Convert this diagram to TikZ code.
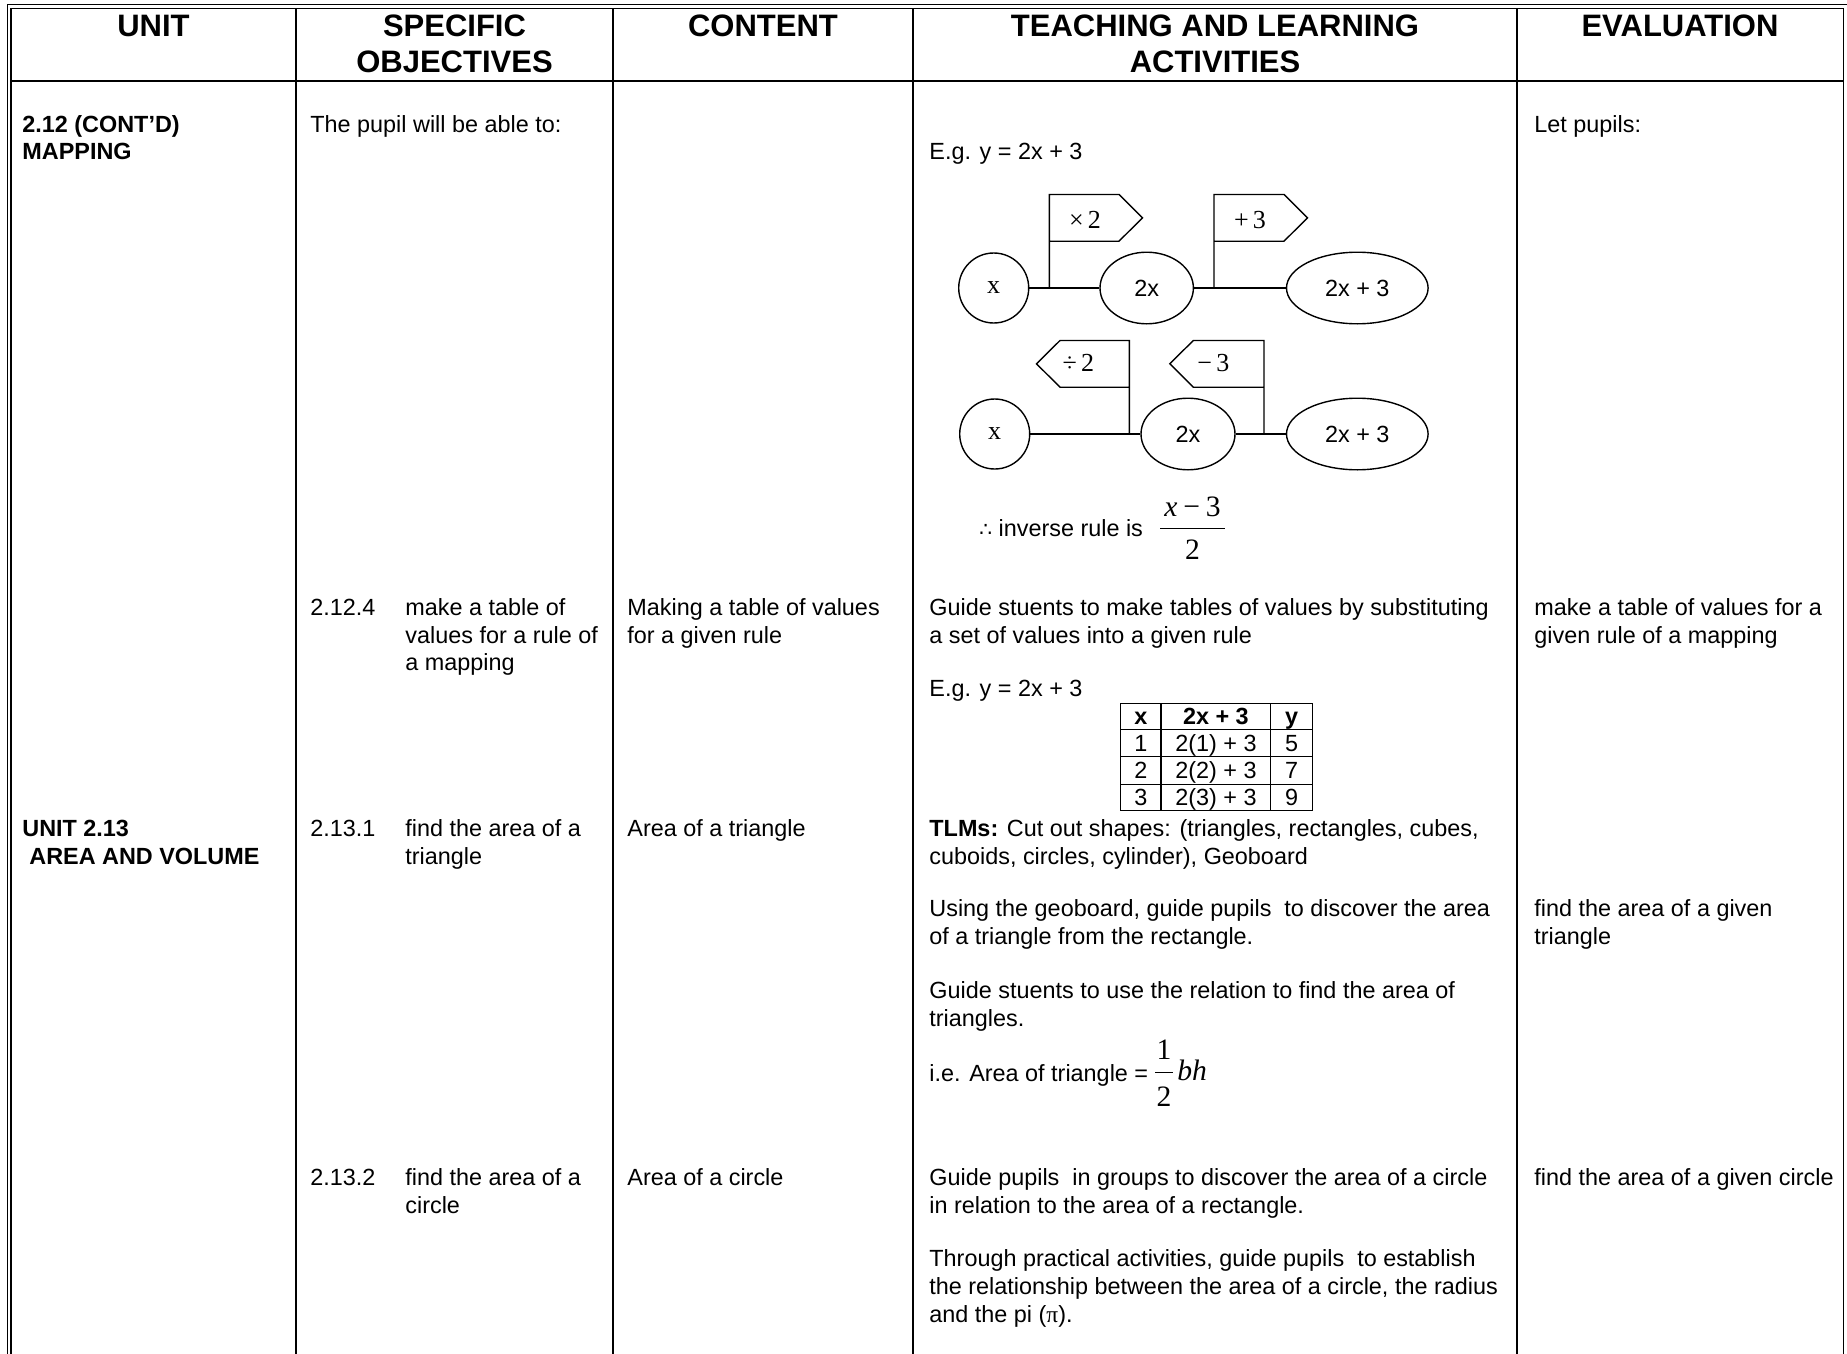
\documentclass[tikz,border=0pt]{standalone}
\usepackage{fontspec}
\setmainfont{Liberation Sans}
\newfontfamily\tms{Liberation Serif}
\newfontfamily\djv{DejaVu Sans}
\usetikzlibrary{shapes}
\newcommand\body{\fontsize{11.7pt}{13.85pt}\selectfont}
\newcommand\hdfont{\fontsize{15.5pt}{17.8pt}\selectfont\bfseries}
\newcommand\tagfont{\fontsize{13pt}{15pt}\selectfont\tms}
\newcommand\fracfont{\fontsize{14.8pt}{17pt}\selectfont\tms}
\tikzstyle{rule}=[draw,line width=0.7pt]
\tikzstyle{head}=[anchor=north,align=center,inner sep=0pt,font=\hdfont]
\tikzstyle{cell}=[anchor=north west,align=left,inner sep=0pt,font=\body]
\tikzstyle{ball}=[circle,draw,line width=0.7pt,minimum size=35pt,inner sep=0pt,font=\tagfont]
\tikzstyle{egg}=[ellipse,draw,line width=0.7pt,minimum height=35.8pt,inner sep=0pt,font=\body]
\tikzstyle{tag}=[inner sep=0pt,font=\tagfont]
\tikzstyle{frac}=[inner sep=0pt,anchor=base,font=\fracfont]
\tikzstyle{entry}=[inner sep=0pt,anchor=base,font=\body]
\begin{document}
\begin{tikzpicture}[x=0.5pt,y=-0.5pt]

  \fill[white] (0,0) rectangle (1847,1354);
  \useasboundingbox (0,0) rectangle (1847,1354);

  % frame
  \draw[rule] (7.5,4.5) -- (1847,4.5);
  \draw[rule] (7.5,4.5) -- (7.5,1354);
  \draw[rule] (11,8.5) -- (1843.3,8.5);
  \draw[rule] (11,8.5) -- (11,1354);
  \draw[rule] (1843.3,8.5) -- (1843.3,1354);
  \draw[rule] (11,81) -- (1843.3,81);
  \foreach \cx in {296,613,913,1517}
         \draw[rule] (\cx,8.5) -- (\cx,1354);

  % headings
  \foreach \x/\name/\label in {153.5/hunit/UNIT, 454.5/hobj/{SPECIFIC\\OBJECTIVES}, 763/hcont/CONTENT, 1215/hact/{TEACHING AND LEARNING\\ACTIVITIES}, 1680/heval/EVALUATION}
          \node[head] (\name) at (\x,11.2) {\strut\label};

  % cells
  \foreach \x/\y/\name/\label in {22/112.5/ua/{2.12 (CONT’D)\\MAPPING}, 22/817/ub/{UNIT 2.13\\\hspace*{3.5pt}AREA AND VOLUME}}
          \node[cell,font=\body\bfseries] (\name) at (\x,\y) {\strut\label};

  \foreach \x/\y/\name/\label in {
      310/112.5/oa/{The pupil will be able to:},
      1534/112.5/ea/{Let pupils:},
      929/139.8/ta/{E.g. y = 2x + 3},
      310/595.7/nb/2.12.4,
      405/595.7/ob/{make a table of\\values for a rule of\\a mapping},
      627/595.7/cb/{Making a table of values\\for a given rule},
      929/595.7/tb/{Guide stuents to make tables of values by substituting\\a set of values into a given rule},
      1534/595.7/eb/{make a table of values for a\\given rule of a mapping},
      929/677/tbb/{E.g. y = 2x + 3},
      310/817/nc/2.13.1,
      405/817/oc/{find the area of a\\triangle},
      627/817/cc/{Area of a triangle},
      929/817/tc/{\textbf{TLMs:} Cut out shapes: (triangles, rectangles, cubes,\\cuboids, circles, cylinder), Geoboard},
      929/897/tcc/{Using the geoboard, guide pupils\ \ to discover the area\\of a triangle from the rectangle.},
      1534/897/ec/{find the area of a given\\triangle},
      929/978.5/tccc/{Guide stuents to use the relation to find the area of\\triangles.},
      310/1166/nd/2.13.2,
      405/1166/od/{find the area of a\\circle},
      627/1166/cd/{Area of a circle},
      929/1166/td/{Guide pupils\ \ in groups to discover the area of a circle\\in relation to the area of a rectangle.},
      1534/1166/ed/{find the area of a given circle},
      929/1247/tdd/{Through practical activities, guide pupils\ \ to establish\\the relationship between the area of a circle, the radius\\and the pi ({\tms π}).}}
          \node[cell] (\name) at (\x,\y) {\strut\label};

  % mapping x -> 2x -> 2x + 3
  \foreach \x/\y/\name/\label in {993.7/288/xa/x, 994.7/434/xb/x}
          \node[ball] (\name) at (\x,\y) {\label};
  \foreach \x/\y/\name/\w/\label in {1146.7/288/ma/46.7pt/2x, 1357.3/288/ra/70.8pt/2x + 3, 1188/434/mb/47pt/2x, 1357.3/434/rb/70.8pt/2x + 3}
          \node[egg,minimum width=\w] (\name) at (\x,\y) {\label};

  \foreach \source/ \dest in {xa/ma, ma/ra, xb/mb, mb/rb}
         \path[rule] (\source) -- (\dest);

  % flags
  \foreach \name/\x/\y/\w/\s in {pa/1049.3/288/69.7/1, pb/1214/288/70/1, pc/1129.3/434/69.3/-1, pd/1264/434/70.7/-1}
  {
    \coordinate (\name) at (\x,\y);
    \draw[rule] (\name) -- ++(0,-93.5) -- ++(\s*\w,0) -- ++(\s*23.5,23.3) -- ++(\s*-23.5,23.4) -- ++(\s*-\w,0);
  }
  \foreach \x/\y/\name/\label in {1085/220/fa/{×\,2}, 1250/220/fb/{+\,3}, 1078.3/363.3/fc/{÷\,2}, 1213.3/363.3/fd/{−\,3}}
          \node[tag] (\name) at (\x,\y) {\label};

  % inverse rule
  \node[cell,anchor=base west] (inv) at (979,536.7) {{\djv\fontsize{10pt}{12pt}\selectfont ∴} inverse rule is};
  \node[frac] (inum) at (1192.5,516) {{\itshape x}\hspace{0.2em}−\hspace{0.2em}3};
  \node[frac] (iden) at (1192.5,559) {2};
  \draw[line width=0.6pt] (1160,528.3) -- (1225,528.3);

  % table of values
  \foreach \cx in {1120.7,1161,1270.7,1312.3}
         \draw[rule] (\cx,703.3) -- (\cx,810.7);
  \foreach \ry in {703.3,729.3,756.7,784.3,810.7}
         \draw[rule] (1120.7,\ry) -- (1312.3,\ry);
  \node[entry,font=\body\bfseries] (vx) at (1140.9,724.7) {x};
  \node[entry,font=\body\bfseries] (vr) at (1215.9,724.7) {2x + 3};
  \node[entry,font=\body\bfseries] (vy) at (1291.5,724.7) {y};
  \foreach \y/\a/\b in {751.4/1/5, 778.9/2/7, 805.9/3/9}
  {
    \node[entry] (vx\a) at (1140.9,\y) {\a};
    \node[entry] (vr\a) at (1215.9,\y) {2(\a) + 3};
    \node[entry] (vy\a) at (1291.5,\y) {\b};
  }

  % area of triangle
  \node[cell,anchor=base west] (ie) at (929,1081.7) {i.e. Area of triangle =};
  \node[frac] (tnum) at (1164,1059) {1};
  \node[frac] (tden) at (1164,1106.7) {2};
  \draw[line width=0.6pt] (1155,1072.7) -- (1173,1072.7);
  \node[frac,anchor=base west] (bh) at (1177,1080) {\itshape bh};

\end{tikzpicture}
\end{document}
